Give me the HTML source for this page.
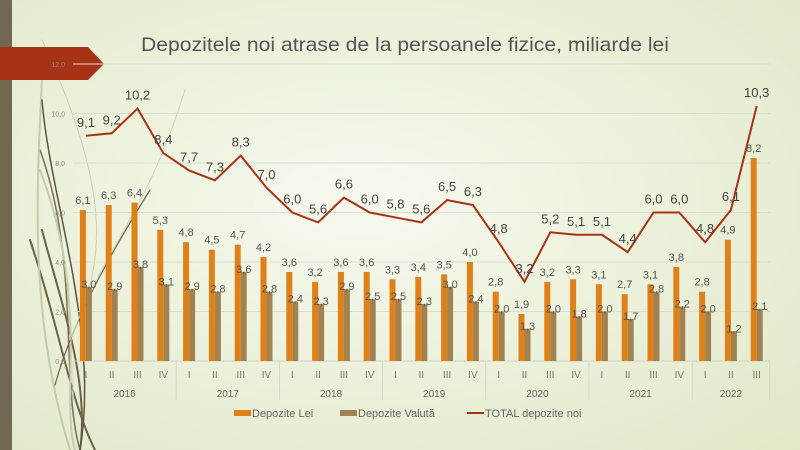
<!DOCTYPE html>
<html><head><meta charset="utf-8"><style>
body{margin:0;width:800px;height:450px;overflow:hidden;background:#eef2dc}
svg{display:block}
text{font-family:"Liberation Sans",sans-serif}
</style></head><body>
<svg id="s" width="800" height="450" xmlns="http://www.w3.org/2000/svg">
<defs><radialGradient id="bg" cx="0.45" cy="0.45" r="0.8"><stop offset="0" stop-color="#f7f9ee"/><stop offset="1" stop-color="#dfe8c6"/></radialGradient></defs>
<rect width="800" height="450" fill="url(#bg)"/>
<g fill="none" stroke-linecap="round">
<path d="M40 150 C 80 260, 60 380, 80 450" stroke="#7a6e55" stroke-width="1.5"/>
<path d="M42 230 C 60 300, 90 380, 80 450" stroke="#6d6248" stroke-width="2"/>
<path d="M30 240 C 60 330, 70 400, 95 450" stroke="#6d6248" stroke-width="2"/>
<path d="M40 170 C 90 300, 60 400, 75 450" stroke="#c9ccaa" stroke-width="2"/>
<path d="M42 80 C 36 200, 30 320, 70 450" stroke="#c6caa6" stroke-width="2"/>
<path d="M42 100 C 50 200, 100 330, 80 450" stroke="#5e5440" stroke-width="1.5"/>
<path d="M55 385 C 70 330, 100 270, 150 190" stroke="#6d6248" stroke-width="1.2"/>
<path d="M92 290 C 120 230, 150 200, 185 90" stroke="#cfd3b2" stroke-width="1"/>
<path d="M70 340 C 100 270, 120 210, 42 40" stroke="#cdd1b0" stroke-width="1"/>
</g>
<rect x="0" y="0" width="12" height="450" fill="#726852"/>
<polygon points="0,47 88,47 104,64 88,80 0,80" fill="#a83216"/>
<text x="141" y="51" font-size="19" fill="#555" textLength="528" lengthAdjust="spacingAndGlyphs">Depozitele noi atrase de la persoanele fizice, miliarde lei</text>
<g id="g"></g>
</svg>
<script>
var L=[6.1,6.3,6.4,5.3,4.8,4.5,4.7,4.2,3.6,3.2,3.6,3.6,3.3,3.4,3.5,4.0,2.8,1.9,3.2,3.3,3.1,2.7,3.1,3.8,2.8,4.9,8.2];
var V=[3.0,2.9,3.8,3.1,2.9,2.8,3.6,2.8,2.4,2.3,2.9,2.5,2.5,2.3,3.0,2.4,2.0,1.3,2.0,1.8,2.0,1.7,2.8,2.2,2.0,1.2,2.1];
var T=[9.1,9.2,10.2,8.4,7.7,7.3,8.3,7.0,6.0,5.6,6.6,6.0,5.8,5.6,6.5,6.3,4.8,3.2,5.2,5.1,5.1,4.4,6.0,6.0,4.8,6.1,10.3];
var x0=73,w=25.8,y0=361,k=24.75,h='';
function Y(v){return y0-v*k}
function f(v){return v.toFixed(1).replace('.',',')}
for(var g=0;g<=12;g+=2){var y=Y(g);h+='<line x1="73" x2="770" y1="'+y+'" y2="'+y+'" stroke="#dcdcd4" stroke-width="1"/><text x="65" y="'+(y+3)+'" font-size="7" fill="#888" text-anchor="end">'+f(g)+'</text>';}
h+='<line x1="73" x2="770" y1="361" y2="361" stroke="#d0d0c8"/>';
var bounds=[0,4,8,12,16,20,24,27];
bounds.forEach(function(b){var x=x0+b*w;h+='<line x1="'+x+'" x2="'+x+'" y1="361" y2="400" stroke="#d5d8c8"/>';});
var yrs=['2016','2017','2018','2019','2020','2021','2022'];
for(var i=0;i<7;i++){var xa=x0+bounds[i]*w,xb=x0+bounds[i+1]*w;h+='<text x="'+(xa+xb)/2+'" y="397" font-size="10" fill="#666" text-anchor="middle">'+yrs[i]+'</text>';}
var R=['I','II','III','IV'],pts=[];
for(var i=0;i<27;i++){var c=x0+w*(i+.5);
h+='<rect x="'+(c-6)+'" y="'+Y(L[i])+'" width="6" height="'+L[i]*k+'" fill="#e08018"/>';
h+='<rect x="'+c+'" y="'+Y(V[i])+'" width="6" height="'+V[i]*k+'" fill="#a08350"/>';
h+='<text x="'+(c-3)+'" y="'+(Y(L[i])-6)+'" font-size="11" fill="#555" text-anchor="middle">'+f(L[i])+'</text>';
h+='<text x="'+(c+3)+'" y="'+(Y(V[i])+1)+'" font-size="11" fill="#555" text-anchor="middle">'+f(V[i])+'</text>';
h+='<text x="'+c+'" y="378" font-size="10" fill="#777" text-anchor="middle">'+R[i%4]+'</text>';
pts.push(c+','+Y(T[i]));}
h+='<polyline points="'+pts.join(' ')+'" fill="none" stroke="#a83216" stroke-width="2"/>';
for(var i=0;i<27;i++){var c=x0+w*(i+.5);h+='<text x="'+c+'" y="'+(Y(T[i])-9)+'" font-size="13" fill="#444" text-anchor="middle">'+f(T[i])+'</text>';}
h+='<rect x="234" y="410" width="17" height="6" fill="#e08018"/><text x="252" y="417" font-size="11" fill="#666">Depozite Lei</text>';
h+='<rect x="340" y="410" width="17" height="6" fill="#a08350"/><text x="358" y="417" font-size="11" fill="#666">Depozite Valută</text>';
h+='<line x1="467" x2="484" y1="413" y2="413" stroke="#a83216" stroke-width="2"/><text x="485" y="417" font-size="11" fill="#666">TOTAL depozite noi</text>';
document.getElementById('g').innerHTML=h;
</script>
</body></html>
